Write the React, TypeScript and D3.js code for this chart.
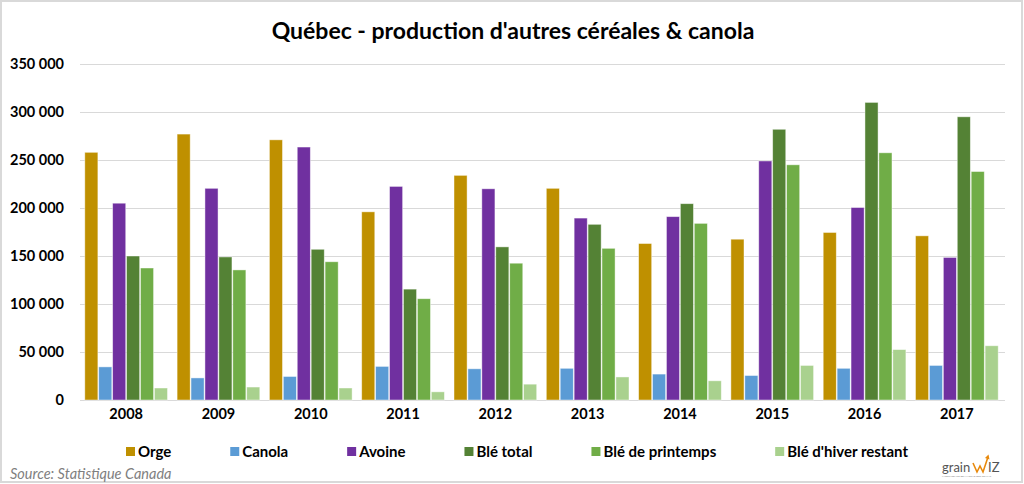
import React, { useEffect, useRef } from "react";
import * as d3 from "d3";

// Chart data
const years = ["2008", "2009", "2010", "2011", "2012", "2013", "2014", "2015", "2016", "2017"];

const orge = [258000, 277000, 271000, 196000, 234000, 220500, 163000, 167500, 174500, 171000];
const canola = [34500, 23000, 24500, 35000, 32500, 33000, 27000, 25500, 33000, 36000];
const avoine = [205000, 220500, 263500, 222500, 220000, 189500, 191000, 249000, 200500, 148500];
const bleTotal = [150000, 149000, 157000, 115500, 159500, 183000, 204500, 282000, 310000, 295000];
const blePrintemps = [137500, 135500, 144000, 105500, 142500, 158000, 184000, 245000, 257500, 238000];
const bleHiver = [12500, 13500, 12500, 8500, 16500, 24000, 20000, 36000, 52500, 56500];

const seriesNames = ["Orge", "Canola", "Avoine", "Blé total", "Blé de printemps", "Blé d'hiver restant"];
const seriesValues = [orge, canola, avoine, bleTotal, blePrintemps, bleHiver];
const seriesColors = ["#BF9000", "#5B9BD5", "#7030A0", "#548235", "#70AD47", "#A9D18E"];

const yTicks = [0, 50000, 100000, 150000, 200000, 250000, 300000, 350000];

const App: React.FC = () => {
  const svgRef = useRef<SVGSVGElement | null>(null);

  useEffect(() => {
    document.body.style.margin = "0";

    const width = 1024;
    const height = 484;
    const margin = { top: 64, right: 21, bottom: 84, left: 80 };
    const font = "Lato, 'Open Sans', sans-serif";

    const svg = d3.select(svgRef.current).attr("width", width).attr("height", height);
    svg.selectAll("*").remove();

    // outer frame
    svg
      .append("rect")
      .attr("x", 1)
      .attr("y", 1)
      .attr("width", width - 3)
      .attr("height", height - 3)
      .attr("fill", "#fff")
      .attr("stroke", "#d9d9d9")
      .attr("stroke-width", 2);

    // title
    svg
      .append("text")
      .attr("x", 513)
      .attr("y", 39)
      .attr("text-anchor", "middle")
      .attr("font-family", font)
      .attr("font-weight", "bold")
      .attr("font-size", 23)
      .attr("fill", "#000")
      .text("Québec - production d'autres céréales & canola");

    const x = d3
      .scaleBand<string>()
      .domain(years)
      .range([margin.left, width - margin.right])
      .paddingInner(0.104)
      .paddingOuter(0.052);

    const xInner = d3
      .scaleBand<string>()
      .domain(seriesNames)
      .range([0, x.bandwidth()])
      .paddingInner(0.06);

    const y = d3
      .scaleLinear()
      .domain([0, 350000])
      .range([height - margin.bottom, margin.top]);

    // gridlines
    svg
      .append("g")
      .selectAll("line")
      .data(yTicks)
      .enter()
      .append("line")
      .attr("x1", margin.left)
      .attr("x2", width - margin.right + 2)
      .attr("y1", (d) => y(d) + 0.5)
      .attr("y2", (d) => y(d) + 0.5)
      .attr("stroke", "#d9d9d9")
      .attr("stroke-width", 1.2);

    // y tick labels
    const fmt = (v: number) => d3.format(",")(v).replace(/,/g, " ");
    svg
      .append("g")
      .selectAll("text")
      .data(yTicks)
      .enter()
      .append("text")
      .attr("x", 64)
      .attr("y", (d) => y(d))
      .attr("dy", "0.35em")
      .attr("text-anchor", "end")
      .attr("font-family", font)
      .attr("font-weight", "bold")
      .attr("font-size", 14.5)
      .attr("fill", "#000")
      .text((d) => fmt(d));

    // bars
    const groups = svg
      .append("g")
      .selectAll("g")
      .data(years)
      .enter()
      .append("g")
      .attr("transform", (d) => `translate(${x(d)},0)`);

    groups
      .selectAll("rect")
      .data((_, i) => seriesNames.map((name, s) => ({ name, s, value: seriesValues[s][i] })))
      .enter()
      .append("rect")
      .attr("x", (d) => xInner(d.name) || 0)
      .attr("width", xInner.bandwidth())
      .attr("y", (d) => y(d.value))
      .attr("height", (d) => y(0) - y(d.value))
      .attr("fill", (d) => seriesColors[d.s])
      .attr("stroke", "#ffffff")
      .attr("stroke-opacity", 0.55)
      .attr("stroke-width", 0.8);

    // x labels
    svg
      .append("g")
      .selectAll("text")
      .data(years)
      .enter()
      .append("text")
      .attr("x", (d) => (x(d) || 0) + x.bandwidth() / 2)
      .attr("y", 419)
      .attr("text-anchor", "middle")
      .attr("font-family", font)
      .attr("font-weight", "bold")
      .attr("font-size", 14.5)
      .attr("fill", "#000")
      .text((d) => d);

    // legend, laid out from measured text widths
    const legend = svg.append("g");
    const items = legend
      .selectAll("g")
      .data(seriesNames)
      .enter()
      .append("g");
    items
      .append("rect")
      .attr("width", 9)
      .attr("height", 9)
      .attr("y", -10)
      .attr("fill", (_, i) => seriesColors[i]);
    const labels = items
      .append("text")
      .attr("x", 12)
      .attr("y", 0)
      .attr("font-family", font)
      .attr("font-weight", "bold")
      .attr("font-size", 15)
      .attr("fill", "#000")
      .text((d) => d);
    const widths: number[] = [];
    labels.each(function () {
      widths.push((this as SVGTextElement).getComputedTextLength());
    });
    const left = 126;
    const right = 908;
    const gap =
      (right - left - d3.sum(widths) - widths.length * 12) / (widths.length - 1);
    let cx = left;
    items.attr("transform", (_, i) => {
      const t = `translate(${cx},457)`;
      cx += 12 + widths[i] + gap;
      return t;
    });

    // source
    svg
      .append("text")
      .attr("x", 10)
      .attr("y", 479)
      .attr("font-family", font)
      .attr("font-style", "italic")
      .attr("font-size", 14.5)
      .attr("fill", "#7f7f7f")
      .text("Source: Statistique Canada");

    // grainwiz logo
    const logo = svg.append("g").attr("transform", "translate(942,472)");
    logo
      .append("text")
      .attr("x", 0)
      .attr("y", 0)
      .attr("font-family", font)
      .attr("font-size", 13)
      .attr("fill", "#555")
      .text("grain");
    logo
      .append("path")
      .attr("d", "M31,-9 L35,0 L38,-6 L41,0 L46,-15")
      .attr("fill", "none")
      .attr("stroke", "#E8890C")
      .attr("stroke-width", 1.6);
    logo
      .append("path")
      .attr("d", "M43,-14 L46.5,-17.5 L47.5,-12.5 Z")
      .attr("fill", "#E8890C");
    logo
      .append("text")
      .attr("x", 46)
      .attr("y", 0)
      .attr("font-family", font)
      .attr("font-size", 13)
      .attr("fill", "#555")
      .text("IZ");
    logo
      .append("text")
      .attr("x", 0)
      .attr("y", 5)
      .attr("font-family", font)
      .attr("font-size", 2.6)
      .attr("fill", "#888")
      .text("INTELLIGENCE DE MARCHÉ DES GRAINS");
  }, []);

  return (
    <div>
      <svg ref={svgRef}></svg>
    </div>
  );
};

export default App;
